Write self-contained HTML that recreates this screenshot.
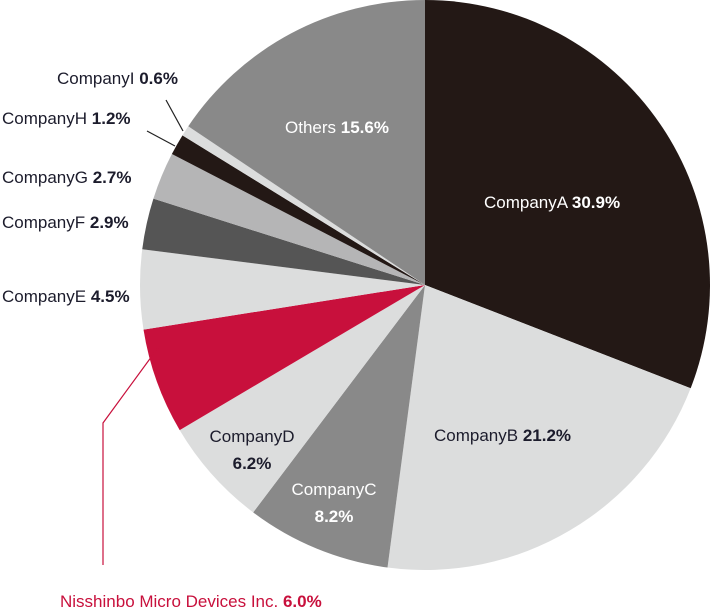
<!DOCTYPE html>
<html><head><meta charset="utf-8"><style>
html,body{margin:0;padding:0;background:#fff;}
svg{display:block;font-family:"Liberation Sans Narrow","Liberation Sans",sans-serif;}
.l{font-size:17px;fill:#1c1c2c;}
.w{fill:#fff;}
.b{font-weight:bold;}
</style></head><body>
<svg id="chart" width="710" height="610" viewBox="0 0 710 610">
<g id="slices"></g>
<g stroke-width="1.2" fill="none">
<line x1="166" y1="100" x2="183" y2="131" stroke="#222"/>
<line x1="147" y1="131" x2="175" y2="146" stroke="#222"/>
<polyline points="160,345 103,423 103,565" stroke="#c8103c"/>
</g>
<g>
<text class="l w" x="484" y="208">CompanyA <tspan class="b">30.9%</tspan></text>
<text class="l" x="434" y="441">CompanyB <tspan class="b">21.2%</tspan></text>
<text class="l w" x="334" y="495" text-anchor="middle">CompanyC</text>
<text class="l w b" x="334" y="522" text-anchor="middle">8.2%</text>
<text class="l" x="252" y="442" text-anchor="middle">CompanyD</text>
<text class="l b" x="252" y="469" text-anchor="middle">6.2%</text>
<text class="l" x="60" y="610" dy="-3" fill="#c8103c" style="fill:#c8103c">Nisshinbo Micro Devices Inc. <tspan class="b">6.0%</tspan></text>
<text class="l" x="2" y="302">CompanyE <tspan class="b">4.5%</tspan></text>
<text class="l" x="2" y="228">CompanyF <tspan class="b">2.9%</tspan></text>
<text class="l" x="2" y="183">CompanyG <tspan class="b">2.7%</tspan></text>
<text class="l" x="2" y="124">CompanyH <tspan class="b">1.2%</tspan></text>
<text class="l" x="57" y="84">CompanyI <tspan class="b">0.6%</tspan></text>
<text class="l w" x="337" y="133" text-anchor="middle">Others <tspan class="b">15.6%</tspan></text>
</g>
</svg>
<script>
const categories = ["CompanyA","CompanyB","CompanyC","CompanyD","Nisshinbo","CompanyE","CompanyF","CompanyG","CompanyH","CompanyI","Others"];
const shares = [30.9,21.2,8.2,6.2,6.0,4.5,2.9,2.7,1.2,0.6,15.6];
const colors = ["#231815","#dcdddd","#898989","#dcdddd","#c8103c","#dcdddd","#555555","#b5b5b6","#231815","#dcdddd","#898989"];
const cx=425, cy=285, r=285;
const total = shares.reduce((a,b)=>a+b,0);
const g = document.getElementById('slices');
let acc = 0;
function pt(frac){const a=frac*2*Math.PI-Math.PI/2;return [cx+r*Math.cos(a),cy+r*Math.sin(a)];}
shares.forEach((v,i)=>{
  const s=acc/total, e=(acc+v)/total; acc+=v;
  const [x1,y1]=pt(s),[x2,y2]=pt(e);
  const large=(e-s)>0.5?1:0;
  const p=document.createElementNS('http://www.w3.org/2000/svg','path');
  p.setAttribute('d',`M${cx},${cy}L${x1},${y1}A${r},${r} 0 ${large} 1 ${x2},${y2}Z`);
  p.setAttribute('fill',colors[i]);
  
  
  g.appendChild(p);
});
</script>
</body></html>
